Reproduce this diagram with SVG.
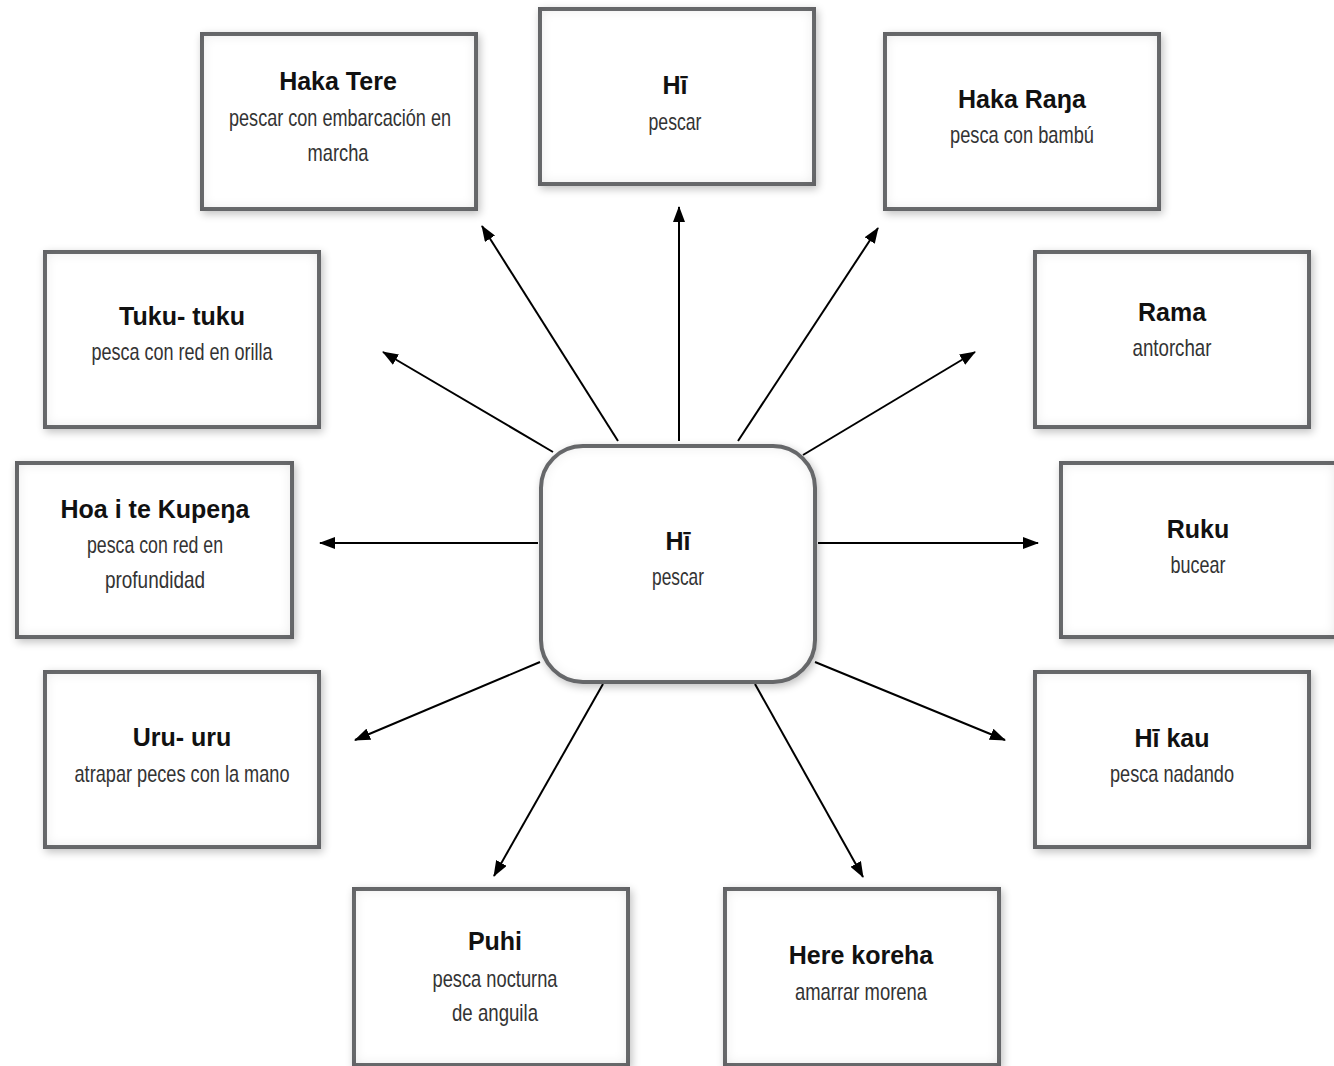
<svg xmlns="http://www.w3.org/2000/svg" width="1334" height="1066" viewBox="0 0 1334 1066">
<style>
.box{fill:#fff;stroke:#6d6e71;stroke-width:4;filter:url(#sh)}
.t{font-family:"Liberation Sans","Noto Sans",sans-serif;font-weight:bold;font-size:25px;fill:#111;text-anchor:middle}
.s{font-family:"Liberation Sans","Noto Sans",sans-serif;font-size:24px;fill:#333;text-anchor:middle}
.c{stroke:#000;stroke-width:2;fill:none;marker-end:url(#ah)}
</style>
<defs>
<marker id="ah" viewBox="0 0 16 12" refX="15" refY="6" markerWidth="16" markerHeight="12" markerUnits="userSpaceOnUse" orient="auto">
<path d="M0,0 L16,6 L0,12 Z" fill="#000"/>
</marker>
<filter id="sh" x="-10%" y="-10%" width="120%" height="120%">
<feGaussianBlur in="SourceAlpha" stdDeviation="4" result="ob"/>
<feOffset in="ob" dx="2" dy="3" result="oo"/>
<feComponentTransfer in="oo" result="os"><feFuncA type="linear" slope="0.25"/></feComponentTransfer>
<feFlood flood-color="#000" flood-opacity="0.3" result="fl"/>
<feComposite in="fl" in2="SourceAlpha" operator="out" result="outside"/>
<feGaussianBlur in="outside" stdDeviation="7" result="ib"/>
<feComposite in="ib" in2="SourceAlpha" operator="in" result="inner"/>
<feMerge><feMergeNode in="os"/><feMergeNode in="SourceGraphic"/><feMergeNode in="inner"/></feMerge>
</filter>
</defs>
<rect width="1334" height="1066" fill="#fff"/>
<g id="connectors">
<line class="c" x1="618" y1="441" x2="482" y2="226"/>
<line class="c" x1="679" y1="441" x2="679" y2="207"/>
<line class="c" x1="738" y1="441" x2="878" y2="228"/>
<line class="c" x1="553" y1="452" x2="383" y2="352"/>
<line class="c" x1="803" y1="455" x2="975" y2="352"/>
<line class="c" x1="538" y1="543" x2="320" y2="543"/>
<line class="c" x1="818" y1="543" x2="1038" y2="543"/>
<line class="c" x1="540" y1="662" x2="355" y2="740"/>
<line class="c" x1="815" y1="662" x2="1005" y2="740"/>
<line class="c" x1="603" y1="684" x2="494" y2="876"/>
<line class="c" x1="755" y1="684" x2="863" y2="877"/>
</g>
<g id="center">
<rect class="box" x="541" y="446" width="274" height="236" rx="42"/>
<text class="t" x="678" y="550">Hī</text>
<text class="s" x="678" y="585" textLength="52" lengthAdjust="spacingAndGlyphs">pescar</text>
</g>
<g id="haka-tere">
<rect class="box" x="202" y="34" width="274" height="175"/>
<text class="t" x="338" y="90">Haka Tere</text>
<text class="s" x="340" y="126" textLength="222" lengthAdjust="spacingAndGlyphs">pescar con embarcación en</text>
<text class="s" x="338" y="161" textLength="61" lengthAdjust="spacingAndGlyphs">marcha</text>
</g>
<g id="hi-top">
<rect class="box" x="540" y="9" width="274" height="175"/>
<text class="t" x="675" y="94">Hī</text>
<text class="s" x="675" y="130" textLength="53" lengthAdjust="spacingAndGlyphs">pescar</text>
</g>
<g id="haka-rana">
<rect class="box" x="885" y="34" width="274" height="175"/>
<text class="t" x="1022" y="108">Haka Raŋa</text>
<text class="s" x="1022" y="143" textLength="144" lengthAdjust="spacingAndGlyphs">pesca con bambú</text>
</g>
<g id="tuku-tuku">
<rect class="box" x="45" y="252" width="274" height="175"/>
<text class="t" x="182" y="325">Tuku- tuku</text>
<text class="s" x="182" y="360" textLength="181" lengthAdjust="spacingAndGlyphs">pesca con red en orilla</text>
</g>
<g id="rama">
<rect class="box" x="1035" y="252" width="274" height="175"/>
<text class="t" x="1172" y="321">Rama</text>
<text class="s" x="1172" y="356" textLength="79" lengthAdjust="spacingAndGlyphs">antorchar</text>
</g>
<g id="hoa-i-te-kupena">
<rect class="box" x="17" y="463" width="275" height="174"/>
<text class="t" x="155" y="518">Hoa i te Kupeŋa</text>
<text class="s" x="155" y="553" textLength="136" lengthAdjust="spacingAndGlyphs">pesca con red en</text>
<text class="s" x="155" y="588" textLength="100" lengthAdjust="spacingAndGlyphs">profundidad</text>
</g>
<g id="ruku">
<rect class="box" x="1061" y="463" width="275" height="174"/>
<text class="t" x="1198" y="538">Ruku</text>
<text class="s" x="1198" y="573" textLength="55" lengthAdjust="spacingAndGlyphs">bucear</text>
</g>
<g id="uru-uru">
<rect class="box" x="45" y="672" width="274" height="175"/>
<text class="t" x="182" y="746">Uru- uru</text>
<text class="s" x="182" y="782" textLength="215" lengthAdjust="spacingAndGlyphs">atrapar peces con la mano</text>
</g>
<g id="hi-kau">
<rect class="box" x="1035" y="672" width="274" height="175"/>
<text class="t" x="1172" y="747">Hī kau</text>
<text class="s" x="1172" y="782" textLength="124" lengthAdjust="spacingAndGlyphs">pesca nadando</text>
</g>
<g id="puhi">
<rect class="box" x="354" y="889" width="274" height="176"/>
<text class="t" x="495" y="950">Puhi</text>
<text class="s" x="495" y="987" textLength="125" lengthAdjust="spacingAndGlyphs">pesca nocturna</text>
<text class="s" x="495" y="1021" textLength="86" lengthAdjust="spacingAndGlyphs">de anguila</text>
</g>
<g id="here-koreha">
<rect class="box" x="725" y="889" width="274" height="176"/>
<text class="t" x="861" y="964">Here koreha</text>
<text class="s" x="861" y="1000" textLength="132" lengthAdjust="spacingAndGlyphs">amarrar morena</text>
</g>
</svg>
